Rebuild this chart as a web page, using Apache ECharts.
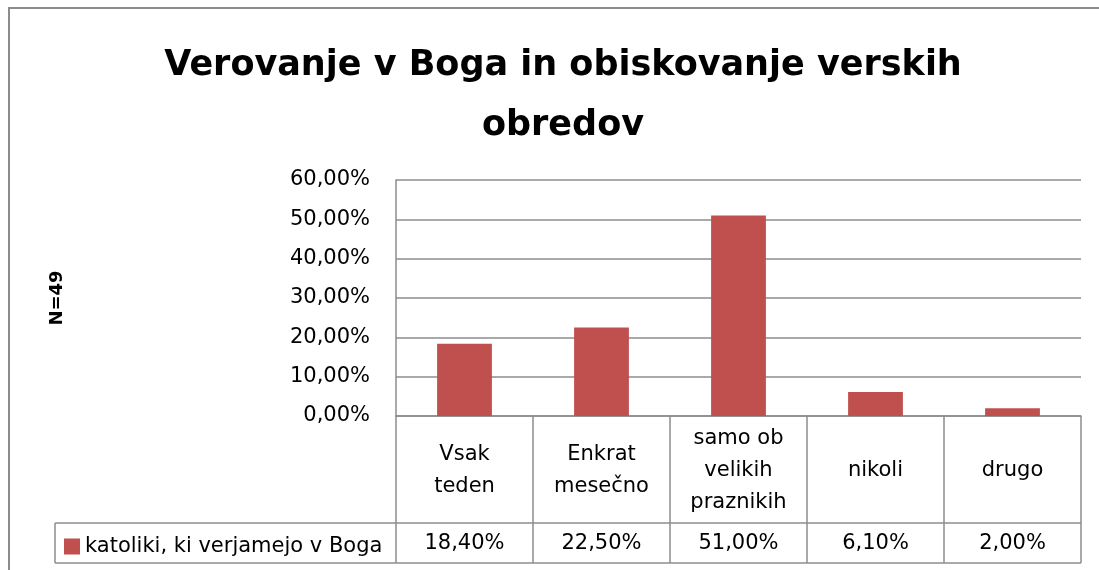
<!DOCTYPE html>
<html>
<head>
<meta charset="utf-8">
<script src="https://cdn.jsdelivr.net/npm/echarts@6/dist/echarts.min.js"></script>
<style>
  html, body { margin: 0; padding: 0; background: #fff; overflow: hidden; }
  #wrap { position: relative; width: 1099px; height: 570px; overflow: hidden; }
  #main { width: 1099px; height: 570px; }
  /* okvir grafa: vidna sta le zgornji in levi rob */
  #frame { position: absolute; left: 8px; top: 7px; width: 1200px; height: 700px;
           border-top: 2px solid #8c8c8c; border-left: 2px solid #8c8c8c; pointer-events: none; }
</style>
</head>
<body>
<div id="wrap">
  <div id="main"></div>
  <div id="frame"></div>
</div>
<script>
// podatki
const categories = ['Vsak\nteden', 'Enkrat\nmesečno', 'samo ob\nvelikih\npraznikih', 'nikoli', 'drugo'];
const values = [18.4, 22.5, 51.0, 6.1, 2.0];
const valueLabels = ['18,40%', '22,50%', '51,00%', '6,10%', '2,00%'];
const seriesName = 'katoliki, ki verjamejo v Boga';
const yMin = 0, yMax = 60, yStep = 10;

const FONT = 'DejaVu Sans';
const FS = 21;
const GRID = { left: 396, right: 18, top: 180, bottom: 154 };
const lineColor = '#8c8c8c';

const chart = echarts.init(document.getElementById('main'));

chart.setOption({
  animation: false,
  title: {
    text: 'Verovanje v Boga in obiskovanje verskih\nobredov',
    left: 558,
    top: 31,
    textAlign: 'center',
    textStyle: { fontFamily: FONT, fontWeight: 'bold', fontSize: 35, lineHeight: 60, color: '#000' }
  },
  legend: {
    data: [seriesName],
    left: 64,
    top: 536,
    icon: 'rect',
    itemWidth: 16,
    itemHeight: 16,
    padding: 0,
    selectedMode: false,
    textStyle: { fontFamily: FONT, fontSize: FS, lineHeight: 16, color: '#000' }
  },
  grid: GRID,
  xAxis: {
    type: 'category',
    data: categories,
    axisLine: { lineStyle: { color: lineColor, width: 1.5 } },
    axisTick: { show: false },
    axisLabel: {
      interval: 0,
      margin: 55,
      verticalAlign: 'middle',
      fontFamily: FONT, fontSize: FS, lineHeight: 32, color: '#000'
    }
  },
  yAxis: {
    type: 'value',
    min: yMin, max: yMax, interval: yStep,
    name: 'N=49',
    nameLocation: 'middle',
    nameRotate: 90,
    nameGap: 330,
    nameTextStyle: { fontFamily: FONT, fontWeight: 'bold', fontSize: 18, color: '#000' },
    axisLine: { show: true, lineStyle: { color: lineColor, width: 1.5 } },
    axisTick: { show: false },
    splitLine: { lineStyle: { color: lineColor, width: 1.5 } },
    axisLabel: {
      margin: 26,
      fontFamily: FONT, fontSize: FS, color: '#000',
      formatter: v => v.toFixed(2).replace('.', ',') + '%'
    }
  },
  series: [{
    name: seriesName,
    type: 'bar',
    data: values,
    barWidth: '40%',
    itemStyle: { color: '#c0504d' }
  }]
});

// tabela s podatki pod grafom
function drawTable() {
  const x0 = GRID.left;
  const x1 = 1099 - GRID.right;
  const yAxisBase = chart.convertToPixel({ yAxisIndex: 0 }, 0);
  const rowTop = yAxisBase + 107;
  const rowBottom = rowTop + 40;
  const tableLeft = 55;
  const step = (x1 - x0) / categories.length;
  const els = [];
  const ls = { stroke: lineColor, lineWidth: 1.5 };
  // vodoravne crte
  els.push({ type: 'line', shape: { x1: tableLeft, y1: rowTop, x2: x1, y2: rowTop }, style: ls });
  els.push({ type: 'line', shape: { x1: tableLeft, y1: rowBottom, x2: x1, y2: rowBottom }, style: ls });
  els.push({ type: 'line', shape: { x1: tableLeft, y1: rowTop, x2: tableLeft, y2: rowBottom }, style: ls });
  // navpicne crte
  for (let i = 0; i <= categories.length; i++) {
    const x = x0 + i * step;
    els.push({ type: 'line', shape: { x1: x, y1: yAxisBase, x2: x, y2: rowBottom }, style: ls });
  }
  // vrednosti
  for (let i = 0; i < valueLabels.length; i++) {
    const cx = chart.convertToPixel({ xAxisIndex: 0 }, i);
    els.push({
      type: 'text', x: cx, y: (rowTop + rowBottom) / 2 + 1,
      style: { text: valueLabels[i], fontFamily: FONT, fontSize: FS, fill: '#000', align: 'center', verticalAlign: 'middle' }
    });
  }
  chart.setOption({ graphic: els });
}
drawTable();
</script>
</body>
</html>
